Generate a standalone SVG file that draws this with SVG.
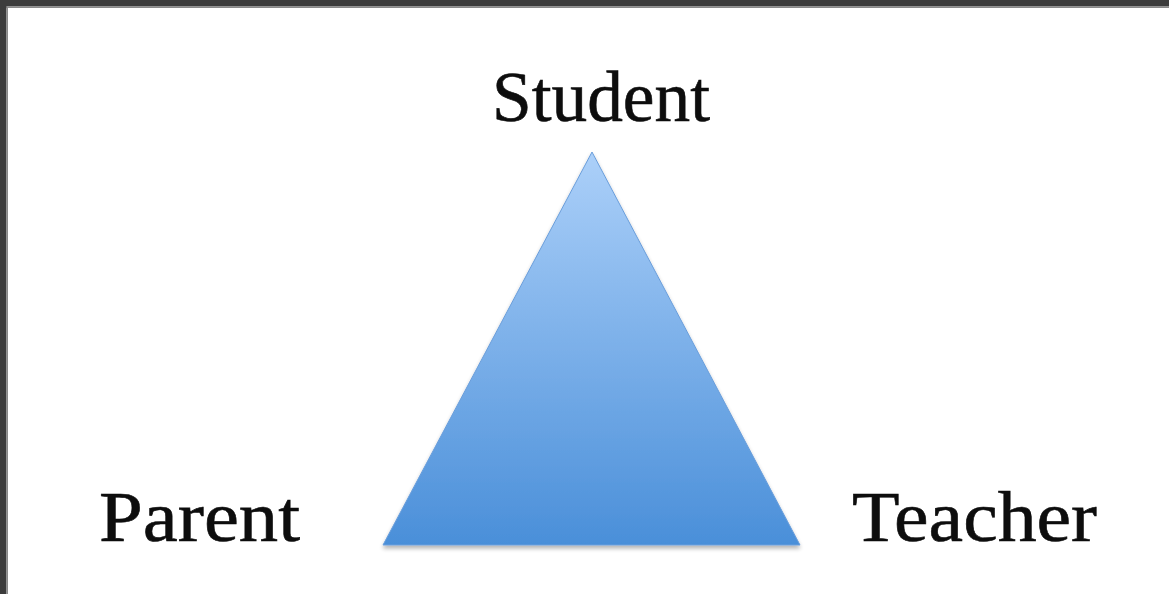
<svg xmlns="http://www.w3.org/2000/svg" width="1169" height="594" viewBox="0 0 1169 594">
<style>
.lbl{font-family:"Liberation Serif","Times New Roman",serif;font-size:71px;fill:#0d0d0d;stroke:#0d0d0d;stroke-width:0.6px;}
</style>
<defs>
<linearGradient id="tri" x1="0" y1="0" x2="0" y2="1">
<stop offset="0" stop-color="#acd0f9"/>
<stop offset="1" stop-color="#4a8fd9"/>
</linearGradient>
<filter id="sh" x="-10%" y="-10%" width="120%" height="130%">
<feGaussianBlur in="SourceAlpha" stdDeviation="2"/>
<feOffset dy="3"/>
<feComponentTransfer><feFuncA type="linear" slope="0.3"/></feComponentTransfer>
<feMerge><feMergeNode/><feMergeNode in="SourceGraphic"/></feMerge>
</filter>
</defs>
<rect x="0" y="0" width="1169" height="594" fill="#ffffff"/>
<rect x="0" y="0" width="1169" height="6.5" fill="#3c3c3c"/>
<rect x="0" y="6.5" width="1169" height="1.5" fill="#8a8a8a"/>
<rect x="0" y="0" width="6.5" height="594" fill="#3c3c3c"/>
<rect x="6.5" y="6.5" width="1.5" height="588" fill="#8a8a8a"/>
<g id="triangle">
<polygon points="592,152 383,545 800,545" fill="url(#tri)" stroke="#6a9edb" stroke-width="1" filter="url(#sh)"/>
</g>
<g id="connectors"></g>
<g id="student"><text class="lbl" x="492" y="121" textLength="218" lengthAdjust="spacingAndGlyphs">Student</text></g>
<g id="parent"><text class="lbl" x="99" y="541" textLength="201" lengthAdjust="spacingAndGlyphs">Parent</text></g>
<g id="teacher"><text class="lbl" x="852" y="541" textLength="245" lengthAdjust="spacingAndGlyphs">Teacher</text></g>
</svg>
